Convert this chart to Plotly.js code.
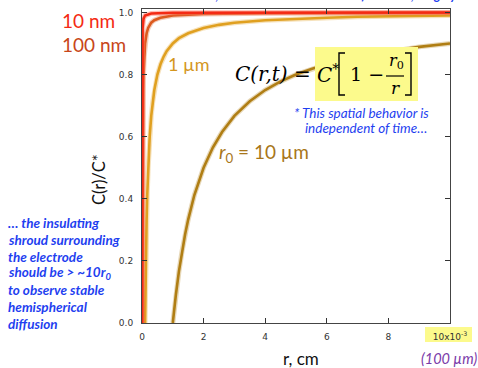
<!DOCTYPE html>
<html><head><meta charset="utf-8">
<script src="https://cdn.plot.ly/plotly-3.0.1.min.js"></script>
<style>html,body{margin:0;padding:0;background:#fff;}#chart{width:478px;height:368px;}</style>
</head><body><div id="chart"></div>
<script>
// r in units of 1e-3 cm, C/C* values
const r_10um = [1,1.05,1.1,1.2,1.3,1.4,1.5,1.7,2,2.3,2.6,3,3.5,4,4.5,5,5.5,6,7,8,9,10];
const c_10um = [0,0.048,0.091,0.167,0.231,0.286,0.333,0.412,0.5,0.565,0.615,0.667,0.714,0.75,0.778,0.8,0.818,0.833,0.857,0.875,0.889,0.9];
const r_1um = [0.1,0.105,0.11,0.12,0.13,0.15,0.17,0.2,0.25,0.3,0.35,0.4,0.5,0.6,0.7,0.8,1,1.2,1.5,2,2.5,3,4,5,6,7,8,9,10];
const c_1um = [0,0.048,0.091,0.167,0.231,0.333,0.412,0.5,0.6,0.667,0.714,0.75,0.8,0.833,0.857,0.875,0.9,0.917,0.933,0.95,0.96,0.967,0.975,0.98,0.983,0.986,0.9875,0.989,0.99];
const r_100nm = [0.01,0.011,0.012,0.013,0.015,0.017,0.02,0.025,0.03,0.04,0.05,0.07,0.1,0.15,0.2,0.3,0.4,0.6,1,2,4,10];
const c_100nm = [0,0.091,0.167,0.231,0.333,0.412,0.5,0.6,0.667,0.75,0.8,0.857,0.9,0.933,0.95,0.967,0.975,0.983,0.99,0.995,0.9975,0.999];
const r_10nm = [0.001,0.0012,0.0015,0.002,0.003,0.005,0.01,0.02,0.05,0.1,0.3,1,10];
const c_10nm = [0,0.167,0.333,0.5,0.667,0.8,0.9,0.95,0.98,0.99,0.9967,0.999,0.9999];
const xTickVals = [0,2,4,6,8,10];
const xTickText = ['0','2','4','6','8','10x10<sup>-3</sup>'];
const yTickVals = [0,0.2,0.4,0.6,0.8,1.0];
const yTickText = ['0.0','0.2','0.4','0.6','0.8','1.0'];

const L=142, R=450, T=9, B=323;
const px = x => (x-L)/(R-L);
const py = y => (B-y)/(B-T);

const series = [
  {x:r_10um, y:c_10um, color:'#b07e14', halo:'rgba(176,126,20,0.3)'},
  {x:r_1um, y:c_1um, color:'#e0a020', halo:'rgba(224,160,32,0.3)'},
  {x:r_100nm, y:c_100nm, color:'#dc5a1e', halo:'rgba(220,90,30,0.3)'},
  {x:r_10nm, y:c_10nm, color:'#f42a14', halo:'rgba(255,110,90,0.45)'}
];
const traces = [];
series.forEach(s => {
  traces.push({x:s.x, y:s.y, mode:'lines', line:{color:s.halo, width:5}, hoverinfo:'skip', showlegend:false});
  traces.push({x:s.x, y:s.y, mode:'lines', line:{color:s.color, width:2.6}, hoverinfo:'skip', showlegend:false});
});

const blue = '#1f3ff0';
function ann(text, x, y, o) {
  o = o || {};
  return Object.assign({text:text, x:px(x), y:py(y), xref:'paper', yref:'paper', showarrow:false,
    xanchor:o.xanchor||'center', yanchor:'middle', borderpad:0,
    font:{family:o.family||'Lato', size:o.size||12, color:o.color||'#000', weight:o.weight||'normal', style:o.style||'normal'}}, o.extra||{});
}
const serif = 'DejaVu Serif';
const leftNote = {xanchor:'left', size:13.5, color:blue, weight:'bold', style:'italic'};
const annotations = [
  ann('… at this distance, the concentration is 90% of the bulk, roughly…', 122, -4, {xanchor:'left', size:12.5, color:blue, weight:'bold', style:'italic'}),
  ann('10 nm', 61, 20, {xanchor:'left', size:19, color:'#f42a14'}),
  ann('100 nm', 61, 45, {xanchor:'left', size:19, color:'#c8461a'}),
  ann('1 µm', 167, 64, {xanchor:'left', size:18, color:'#d4961e'}),
  ann('<i>r</i><sub>0</sub> = 10 µm', 218, 153, {xanchor:'left', size:19, color:'#a8761a'}),
  ann('* This spatial behavior is', 430, 113, {xanchor:'right', size:13.5, color:blue, style:'italic'}),
  ann('independent of time…', 428, 128, {xanchor:'right', size:13.5, color:blue, style:'italic'}),
  ann('… the insulating', 7, 223, leftNote),
  ann('shroud surrounding', 7, 240, leftNote),
  ann('the electrode', 7, 257, leftNote),
  ann('should be > ~10r<sub>0</sub>', 7, 273, leftNote),
  ann('to observe stable', 7, 290, leftNote),
  ann('hemispherical', 7, 307, leftNote),
  ann('diffusion', 7, 324, leftNote),
  ann('(100 µm)', 449, 358, {size:14.5, color:'#7a3aa8', style:'italic'}),
  ann('r, cm', 301, 358, {size:17, color:'#111'}),
  ann('C(r)/C*', 99, 180, {size:16.5, color:'#111', extra:{textangle:-90}}),
  // formula
  ann('C(r,t) =', 312, 74, {xanchor:'right', family:serif, size:20, style:'italic'}),
  ann('C<sup>*</sup>', 316, 74, {xanchor:'left', family:serif, size:20, style:'italic'}),
  ann('1 −', 349, 74, {xanchor:'left', family:serif, size:19}),
  ann('<i>r</i><sub>0</sub>', 396, 62, {family:serif, size:16}),
  ann('r', 395, 88, {family:serif, size:17, style:'italic'})
];
const ln = {color:'#000', width:1.4};
const shapes = [
  {type:'rect', xref:'paper', yref:'paper', x0:px(425), x1:px(472), y0:py(342), y1:py(327), fillcolor:'#fcfa8c', line:{width:0}, layer:'below'},
  {type:'rect', xref:'paper', yref:'paper', x0:px(315), x1:px(418), y0:py(101), y1:py(47), fillcolor:'#fcfa8c', line:{width:0}, layer:'above'},
  {type:'path', xref:'paper', yref:'paper', path:`M${px(345)},${py(53)} L${px(339)},${py(53)} L${px(339)},${py(95)} L${px(345)},${py(95)}`, line:ln, layer:'above'},
  {type:'path', xref:'paper', yref:'paper', path:`M${px(405)},${py(53)} L${px(411)},${py(53)} L${px(411)},${py(95)} L${px(405)},${py(95)}`, line:ln, layer:'above'},
  {type:'line', xref:'paper', yref:'paper', x0:px(386), x1:px(404), y0:py(76), y1:py(76), line:{color:'#000', width:1.2}, layer:'above'}
];
const axisCommon = {showgrid:false, zeroline:false, showline:true, linecolor:'#444', linewidth:1, mirror:'ticks',
  ticks:'inside', ticklen:5, tickcolor:'#333', tickfont:{family:'DejaVu Sans', size:9, color:'#333'}, fixedrange:true};
const layout = {
  width:478, height:368, margin:{l:L, r:478-R, t:T, b:368-B, pad:0},
  paper_bgcolor:'#fff', plot_bgcolor:'#fff', showlegend:false,
  xaxis:Object.assign({}, axisCommon, {range:[0,10], tickvals:xTickVals, ticktext:xTickText, ticklabelstandoff:5}),
  yaxis:Object.assign({}, axisCommon, {range:[0,1.011], tickvals:yTickVals, ticktext:yTickText, ticklabelstandoff:6}),
  annotations:annotations, shapes:shapes
};
Plotly.newPlot('chart', traces, layout, {displayModeBar:false, staticPlot:true});
</script></body></html>
